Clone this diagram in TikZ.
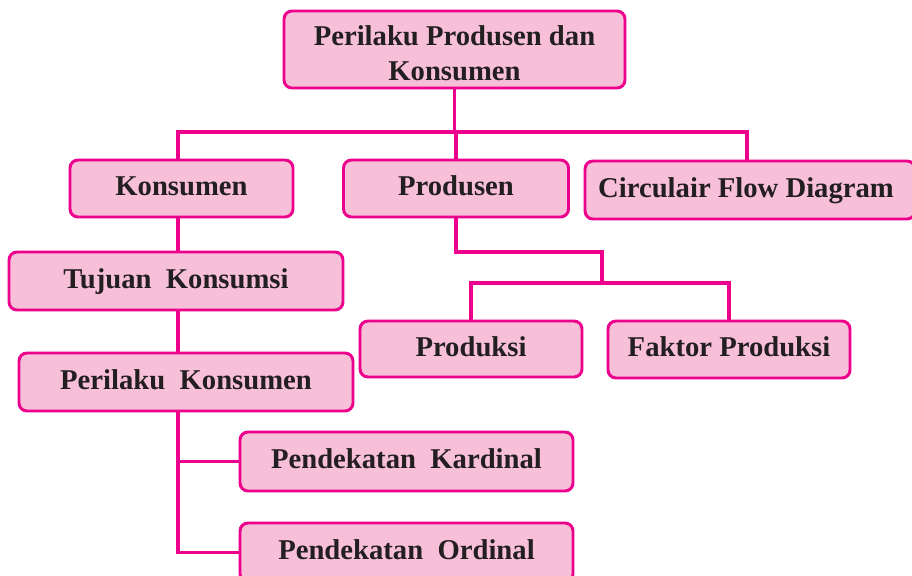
\documentclass[tikz,border=0pt]{standalone}
\usepackage{fontspec}
\setmainfont{Liberation Serif}
\usepackage{tikz}
\usetikzlibrary{positioning}
\definecolor{boxfill}{HTML}{F8BFD9}
\definecolor{boxline}{HTML}{EC008C}
\definecolor{boxtext}{HTML}{231F20}
\tikzset{
    box/.style={draw=boxline, fill=boxfill, rounded corners=6pt, line width=2.2pt,
        text=boxtext, font=\bfseries\fontsize{21.5}{26}\selectfont, inner sep=0pt},
    topic/.style={box, text height=15pt, text depth=3.8pt},
    link/.style={draw=boxline, line width=2.4pt},
}
\begin{document}
\begin{tikzpicture}[x=0.75pt,y=-0.75pt]
	\useasboundingbox (0,0) rectangle (912,575);
%
	\node[box, minimum width=255.75pt, minimum height=57.75pt, align=center] (top) at (454.5,49.5) {\rule{0pt}{21pt}Perilaku Produsen dan\\Konsumen};
	\node[topic, minimum width=167.25pt, minimum height=42.75pt] (konsumen) at (181.5,188.5) {Konsumen};
	\node[topic, minimum width=168.75pt, minimum height=42.75pt] (produsen) at (456,188.5) {Produsen};
	\node[topic, minimum width=247.5pt, minimum height=43.5pt] (circulair) at (750,190) {\hspace*{-3pt}Circulair Flow Diagram\hspace*{3pt}};
	\node[topic, minimum width=250.5pt, minimum height=43.5pt] (tujuan) at (176,281) {Tujuan\ \ Konsumsi};
	\node[topic, minimum width=250.5pt, minimum height=43.5pt] (perilakuK) at (186,382) {Perilaku\ \ Konsumen};
	\node[topic, minimum width=166.5pt, minimum height=42pt] (produksi) at (471,349) {Produksi};
	\node[topic, minimum width=181.5pt, minimum height=42.75pt] (faktor) at (729,349.5) {Faktor Produksi};
	\node[topic, minimum width=249.75pt, minimum height=44.25pt] (kardinal) at (406.5,461.5) {Pendekatan\ \ Kardinal};
	\node[topic, minimum width=249.75pt, minimum height=44.25pt] (ordinal) at (406.5,552.5) {Pendekatan\ \ Ordinal};
%
	\coordinate (busL) at (178,132);
	\coordinate (busR) at (747,132);
	\coordinate (spine) at (178,0);
	\coordinate (prodknee) at (602,252);
	\coordinate (prodbus) at (602,283);
%
	\draw[link] (top.south) -- (top.south |- busL);
	\draw[link] (konsumen.north -| busL) -- (busL) -- (busR) -- (circulair.north -| busR);
	\draw[link] (produsen.north) -- (produsen.north |- busL);
%
	\draw[link] (konsumen.south -| spine) -- (tujuan.north -| spine);
	\draw[link] (tujuan.south -| spine) -- (perilakuK.north -| spine);
	\draw[link] (perilakuK.south -| spine) |- (ordinal.west);
	\draw[link] (kardinal.west) -- (kardinal.west -| spine);
%
	\draw[link] (produsen.south) |- (prodknee) -- (prodbus);
	\draw[link] (produksi.north) |- (prodbus) -| (faktor.north);
\end{tikzpicture}
\end{document}
